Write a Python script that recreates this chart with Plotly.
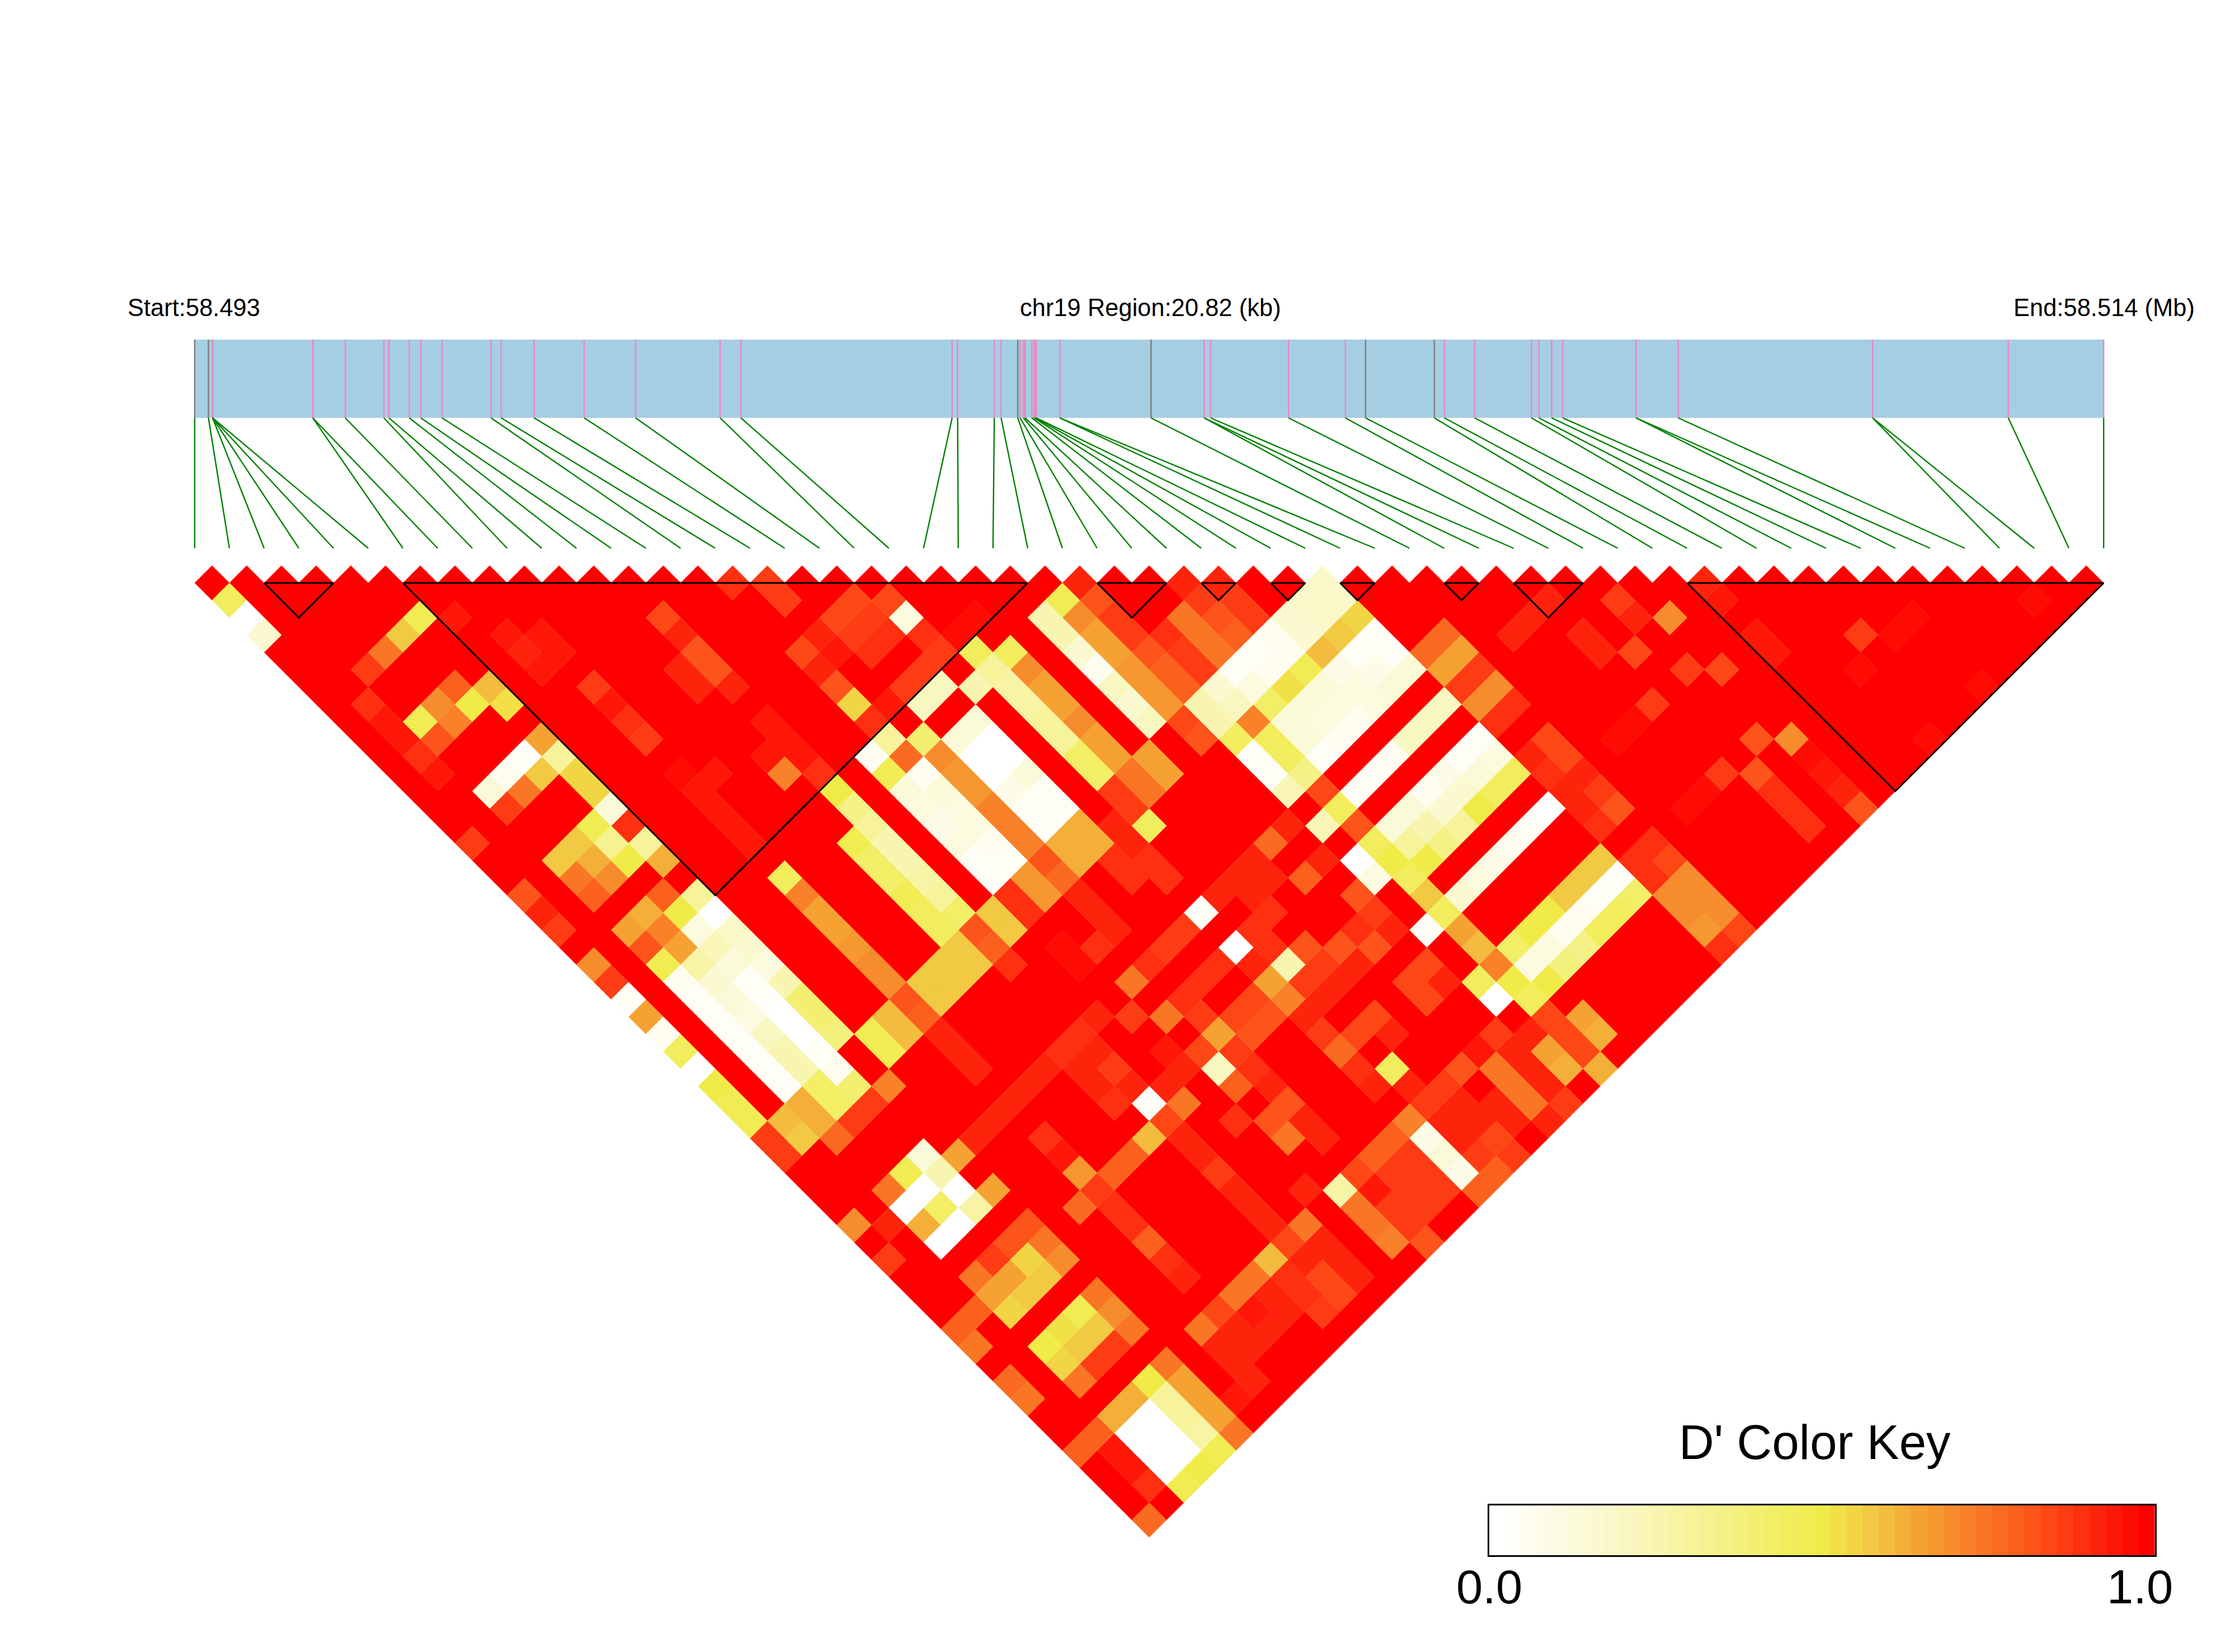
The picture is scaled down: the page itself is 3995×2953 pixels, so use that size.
import plotly.graph_objects as go

# ---------- data ----------
CHROM_LABEL = "chr19 Region:20.82 (kb)"
START_LABEL = "Start:58.493"
END_LABEL = "End:58.514 (Mb)"
REGION_KB = 20.82

snp_pos_kb = [0, 0.15, 0.195, 0.195, 0.195, 0.195, 1.288, 1.288, 1.642, 2.063, 2.118, 2.34, 2.466, 2.698,
              3.232, 3.343, 3.702, 4.248, 4.809, 5.731, 5.957, 8.261, 8.321, 8.721, 8.795, 8.977, 9.002,
              9.039, 9.057, 9.13, 9.155, 9.167, 9.179, 9.435, 9.435, 10.43, 11.01, 11.01, 11.08, 11.93,
              12.55, 12.77, 13.52, 13.63, 13.96, 14.58, 14.66, 14.80, 14.92, 15.72, 15.72, 16.18, 18.3,
              18.3, 19.78, 20.82]
gray_snps = [0, 1, 25, 35, 41, 42]
ld_blocks = [(2, 4), (6, 24), (26, 28), (29, 30), (31, 32), (33, 34), (36, 37), (38, 40), (43, 55)]

# D' per SNP pair: {partner SNP: D'}; every pair not listed reads as 1.0 (full red)
snp00 = {2:.45,3:0,4:.15,16:.87,19:.82,20:.92,21:.88,23:.7,24:.88,25:.03,26:.65,27:.05,28:.45,29:0,30:.5,31:.47,32:.47,33:.88,34:.88,38:.7,40:.88,44:.8,45:.75,47:.78,48:.75,51:.8,55:.78}
snp01 = {9:.9,10:.94,11:.94,12:.9,13:.95,33:.6,34:.58,39:.92,44:.8,51:.8,52:.94,53:.94,54:.9}
snp02 = {8:.87,11:.47,12:.82,15:.13,16:.87,19:.57,20:.74,21:.8,23:.65,24:.82,25:.47,26:.06,27:.02,28:.02,29:.02,30:.02,31:.02,32:.02,33:.62,34:.62,35:.78,38:.75,39:0,40:.62,41:0,43:.76,44:.65,45:.55,47:.5,48:.55,49:.75,51:.62,52:0,53:0,54:0,55:.47}
snp03 = {8:.75,11:.7,12:.72,15:.04,16:.75,19:.57,20:.63,21:.7,23:.63,24:.72,25:.65,26:.27,27:.15,28:.12,29:.1,30:.2,31:.25,32:.25,33:.42,34:.42,35:.88,38:.47,39:0,40:.42,41:0,43:.88,44:.65,45:.58,47:.53,48:.58,49:.88,51:.62,52:0,53:0,54:0,55:.5}
snp04 = {8:.58,11:.8,12:.5,15:.02,16:.57,19:.48,20:.33,21:.5,23:.8,24:.5,25:.1,26:.22,27:.12,28:.02,29:.02,30:0,31:0,32:.02,33:.04,34:.4,35:.88,38:.12,39:.25,40:0,41:.27,43:.83,44:.55,45:.58,47:.48,48:.58,49:.88,51:.5,52:.3,53:.3,54:.27,55:.47}
snp05 = {8:.47,12:.6,13:.52,15:.65,16:.3,17:.55,18:.55,19:.12,20:.9,21:.3,22:.62,24:.3,25:0,26:.18,27:.15,28:.1,29:.25,30:.4,31:.4,32:.38,35:.72,39:.65,41:.65,43:.83,44:.75,45:.7,47:.75,48:.7,49:.76,51:.75,52:.65,53:.65,54:.65,55:.75}
snp06 = {9:.94,33:.47,34:.47,39:.93,54:.96}
snp07 = {11:.94,12:.92,13:.94,33:.6,34:.6,39:.92,44:.77,51:.76,52:.93,53:.93,54:.93}
snp08 = {12:.94,13:.94,15:.88,16:.95,17:.9,18:.88,20:.97,21:.95,22:.95,23:.95,24:.95,26:.45,27:.72,28:.65,29:.65,30:.67,31:.7,32:.7,33:.83,34:.8,35:.93,36:.93,37:.93,39:.92,41:.9,42:.95,43:.68,44:.88,45:.9,46:.9,47:.8,48:.9,49:.92,51:.85,52:.93,53:.93}
snp09 = {21:.96,33:.58,34:.57,39:.93,44:.8,51:.76,52:.95,53:.92}
snp10 = {33:.58,34:.58,39:.93,44:.8,51:.76,52:.93,53:.92}
snp11 = {17:.93,18:.93,22:.95,23:.72,27:.47,28:.42,29:.42,30:.47,31:.46,32:.46,33:.58,34:.58,39:.9,40:.92,41:.93,42:.9,44:.6,51:.6,52:.9,53:.9,54:.88}
snp12 = {15:.85,16:.93,17:.83,18:.83,19:.93,21:.95,22:.95,23:.95,24:.9,25:.5,26:.35,27:.3,28:.25,29:.25,30:.27,31:.3,32:.42,33:.83,34:.8,35:.9,39:.9,40:.92,41:.88,42:.92,43:.02,44:.85,45:.93,46:.93,47:.87,48:.93,49:.93,50:.93,51:.85,52:.93,53:.85,54:.85}
snp13 = {33:.57,34:.57,39:.93,43:.92,44:.76,51:.75,52:.93,53:.93,54:.92}
snp14 = {25:.04,26:.47,27:.12,28:.1,29:.08,30:.1,31:.02,32:.02,33:.9,34:.9,36:.97,37:.97,40:.87,42:.95,43:.92,46:.9,50:.93}
snp15 = {16:.9,20:.85,21:.93,22:.83,23:.55,24:.9,25:.3,26:.78,27:.05,28:.12,29:.1,30:.1,31:.06,32:.02,33:.68,34:.68,37:.9,39:.75,41:.76,43:.85,44:.2,45:.8,47:.83,48:.76,51:.28,52:.76,53:.76,54:.72}
snp16 = {17:.87,18:.87,20:.92,21:.96,24:.96,26:.4,27:.7,28:.68,29:.68,30:.72,31:.72,32:.72,33:.83,34:.78,35:.93,36:.93,37:.93,39:.9,41:.9,42:.88,43:.65,44:.87,45:.9,46:.92,47:.83,48:.92,49:.92,51:.85,52:.95,53:.88,54:.88,55:.83}
snp17 = {20:.84,21:.87,22:.9,24:.88,25:.2,27:.12,28:0,29:0,30:.08,31:.03,32:.02,33:.62,34:.62,39:.87,41:.9,43:.85,44:.83,51:.8,52:.88,53:.88,54:.87}
snp18 = {20:.84,21:.87,22:.9,24:.88,25:.2,27:.12,28:0,29:0,30:.12,31:.02,32:.02,33:.62,34:.62,35:.9,36:.9,39:.87,41:.9,43:.85,44:.83,51:.8,52:.88,53:.88,54:.87}
snp19 = {21:.85,22:.1,23:.9,24:.87,26:.25,34:.92,35:.92,36:.9,37:.9,39:.03,41:0,42:.93,43:.65,44:.72,45:.92,46:.88,47:.78,48:.9,49:.93,51:.72,52:.08,53:.12,54:.08,55:.8}
snp20 = {24:.97,25:.45,26:.3,27:.27,28:.27,29:.3,30:.3,31:.42,32:.42,33:.87,34:.87,35:.45,39:.92,41:.9,42:.9,43:.25,44:.88,45:.92,47:.85,49:.45,50:.93,51:.88,52:.93,53:.93,54:.88,55:.8}
snp21 = {24:.97,26:.45,27:.7,28:.65,29:.65,30:.7,31:.65,32:.65,33:.76,34:.74,39:.92,40:.92,41:.9,43:.82,44:.88,45:.92,47:.85,48:.92,51:.88,52:.93,53:.93,54:.85,55:.87}
snp22 = {33:.65,34:.65,39:.93,40:.92,44:.82,45:.93,51:.83,53:.93,54:.93}
snp23 = {26:.25,27:.25,28:.15,29:.05,30:.2,31:.15,32:.2,39:.78,41:.8,44:.9,45:.83,47:.85,48:.85,51:.95,52:.76,53:.76,54:.76,55:.92}
snp24 = {26:.47,27:.7,28:.65,29:.65,30:.68,31:.67,32:.68,33:.85,34:.82,39:.92,41:.92,43:.83,44:.88,45:.92,47:.85,48:.92,51:.88,52:.92,53:.92,54:.92,55:.87}
snp25 = {26:.93,27:.83,28:.88,29:.87,30:.82,31:.8,32:.8,33:.25,34:.25,35:.45,36:.03,37:.03,38:.22,40:.22,42:0,43:.1,46:.02,49:.45,50:0,52:.92,53:.65,54:.63}
snp26 = {30:.9,31:.88,32:.88,33:.15,34:.2,35:.72,36:.45,37:.45,38:.35,39:.85,40:.45,41:.83,42:.45,43:.5,44:.45,45:.58,46:.45,47:.65,48:.6,49:.72,50:.5,51:.45,52:.85,53:.85,54:.85,55:.62}
snp27 = {30:.75,31:.75,32:.75,33:.03,34:.1,35:.42,36:.12,37:.12,38:.03,40:.03,42:.12,43:.3,44:.5,46:.15,49:.42,50:.1,51:.5,53:.65,54:.62}
snp28 = {29:.92,30:.88,31:.82,32:.8,33:.02,34:.05,35:.52,36:.12,37:.1,38:.04,40:.02,42:.12,43:.25,44:.35,46:.1,49:.5,50:.1,51:.38}
snp29 = {30:.92,31:.87,32:.87,33:.05,34:.05,35:.47,36:.12,37:.1,38:.04,40:.05,42:.05,43:.15,44:.3,46:.08,49:.5,50:.06,51:.35}
snp30 = {33:.15,34:.15,35:.6,36:.08,37:.1,38:.1,40:.2,42:.08,43:.15,44:.5,46:.05,49:.58,50:.05,51:.45}
snp31 = {33:.18,34:.18,35:.58,36:.03,37:.08,38:.12,40:.2,42:.03,43:.12,44:.45,46:.03,49:.58,50:.03,51:.45}
snp32 = {33:.18,34:.18,35:.55,36:.02,37:.02,38:.12,40:.2,42:.02,43:.1,44:.45,46:0,49:.58,50:.03,51:.42}
snp33 = {38:.78,39:.65,40:.88,41:.7,42:.9,44:.93,45:.9,46:.93,47:.92,48:.9,50:.9,51:.9,52:.7,53:.7,54:.67,55:.9}
snp34 = {38:.78,39:.65,40:.88,41:.7,42:.9,44:.84,45:.84,46:.92,47:.87,48:.83,50:.9,51:.85,52:.7,53:.7,54:.7,55:.85}
snp36 = {40:.92,46:.97,50:.97}
snp37 = {40:.92,46:.97,50:.97}
snp38 = {40:.92,42:.92,43:.92,46:.88,50:.88}
snp39 = {44:.85,51:.82,52:.9,53:.9,54:.9}
snp40 = {42:.87,43:.93,46:.87,50:.83}
snp41 = {44:.7,47:.84,51:.7,52:.97,53:.94,54:.92,55:.83}
snp43 = {44:.92,45:.94,47:.95,48:.95}
snp45 = {51:.97,55:.98}
snp46 = {50:.88}
snp47 = {51:.97}
snp48 = {51:.97,55:.98}
snp52 = {54:.98}

pair_rows = {0:snp00,1:snp01,2:snp02,3:snp03,4:snp04,5:snp05,6:snp06,7:snp07,8:snp08,9:snp09,10:snp10,11:snp11,
             12:snp12,13:snp13,14:snp14,15:snp15,16:snp16,17:snp17,18:snp18,19:snp19,20:snp20,21:snp21,22:snp22,
             23:snp23,24:snp24,25:snp25,26:snp26,27:snp27,28:snp28,29:snp29,30:snp30,31:snp31,32:snp32,33:snp33,
             34:snp34,36:snp36,37:snp37,38:snp38,39:snp39,40:snp40,41:snp41,43:snp43,45:snp45,46:snp46,47:snp47,
             48:snp48,52:snp52}

# colour key of the picture
key_anchors = [(0, (255,255,255)), (.1,(252,251,224)), (.25,(248,245,176)), (.5,(240,235,71)), (.55,(242,213,69)),
               (.6,(243,188,62)), (.65,(246,162,51)), (.7,(247,140,45)), (.75,(249,118,37)), (.8,(251,96,29)),
               (.85,(253,72,22)), (.9,(254,48,16)), (.95,(255,24,8)), (1,(255,0,0))]
N_STEPS = 41

# ---------- layout constants (figure pixels) ----------
W, H = 3995, 2953
X0, DX, Y0 = 348.0, 62.04, 1042.0
def py(p):
    return (Y0 - p) / DX
BAR_TOP, BAR_BOTTOM, FAN_END = py(607), py(747), py(980)


def color_of(v):
    step = round(v * (N_STEPS - 1)) / (N_STEPS - 1)
    for (a, ca), (b, cb) in zip(key_anchors, key_anchors[1:]):
        if a <= step <= b:
            t = (step - a) / (b - a)
            c = [round(x + (y - x) * t) for x, y in zip(ca, cb)]
            return "rgb(%d,%d,%d)" % tuple(c)
    return "rgb(255,0,0)"


n = len(snp_pos_kb)
groups = {}
for i in range(n - 1):
    for j in range(i + 1, n):
        v = pair_rows.get(i, {}).get(j, 1.0)
        groups.setdefault(color_of(v), []).append((round(v, 3), i, j))

fig = go.Figure()

# SNP position bar
fig.add_trace(go.Scatter(x=[0, 55, 55, 0, 0], y=[BAR_TOP, BAR_TOP, BAR_BOTTOM, BAR_BOTTOM, BAR_TOP], mode="lines",
                         fill="toself", fillcolor="#A6CEE3", line=dict(width=0), hoverinfo="skip", showlegend=False))
to_x = lambda kb: kb / REGION_KB * (n - 1)
for colour, idx, w in (("#E78AC3", [k for k in range(n) if k not in gray_snps], 2.6),
                       ("#808080", gray_snps, 2.6)):
    xs, ys = [], []
    for k in idx:
        xs += [to_x(snp_pos_kb[k]), to_x(snp_pos_kb[k]), None]
        ys += [BAR_TOP, BAR_BOTTOM, None]
    fig.add_trace(go.Scatter(x=xs, y=ys, mode="lines", line=dict(color=colour, width=w), hoverinfo="skip", showlegend=False))
xs, ys = [], []
for k in range(n):
    xs += [to_x(snp_pos_kb[k]), k, None]
    ys += [BAR_BOTTOM, FAN_END, None]
fig.add_trace(go.Scatter(x=xs, y=ys, mode="lines", line=dict(color="#008000", width=2.4), hoverinfo="skip", showlegend=False))

# LD cells, reddest first so lighter cells sit on top of the seams
for colour, cells in sorted(groups.items(), key=lambda kv: -kv[1][0][0]):
    xs, ys = [], []
    for v, i, j in cells:
        cx, cy = (i + j) / 2, -(j - i - 1) / 2
        xs += [cx - .5, cx, cx + .5, cx, cx - .5, None]
        ys += [cy, cy + .5, cy, cy - .5, cy, None]
    fig.add_trace(go.Scatter(x=xs, y=ys, mode="lines", fill="toself", fillcolor=colour,
                             line=dict(color=colour, width=0.5), hoverinfo="skip", showlegend=False))

# LD blocks
xs, ys = [], []
for a, b in ld_blocks:
    xs += [a, b, (a + b) / 2, a, None]
    ys += [0, 0, -(b - a) / 2, 0, None]
fig.add_trace(go.Scatter(x=xs, y=ys, mode="lines", line=dict(color="black", width=3), hoverinfo="skip", showlegend=False))

# colour key
key_scale = []
key_colors = [color_of(s / (N_STEPS - 1)) for s in range(N_STEPS)]
for s, c in enumerate(key_colors):
    key_scale += [[s / N_STEPS, c], [(s + 1) / N_STEPS, c]]
fig.add_trace(go.Heatmap(z=[list(range(N_STEPS))], xaxis="x2", yaxis="y2", colorscale=key_scale, zmin=-.5,
                         zmax=N_STEPS - .5, showscale=False, hoverinfo="skip"))


def label(text, px, pyy, size, anchor="center"):
    return dict(text=text, x=px / W, y=1 - pyy / H, xref="paper", yref="paper", xanchor=anchor, yanchor="middle",
                showarrow=False, font=dict(family="Liberation Sans", size=size, color="black"))


fig.update_layout(
    width=W, height=H, margin=dict(l=0, r=0, t=0, b=0), plot_bgcolor="white", paper_bgcolor="white", showlegend=False,
    xaxis=dict(domain=[0, 1], range=[-X0 / DX, (W - X0) / DX], visible=False),
    yaxis=dict(domain=[0, 1], range=[(Y0 - H) / DX, Y0 / DX], visible=False),
    xaxis2=dict(domain=[2661.6 / W, 3852 / W], anchor="y2", showticklabels=False, ticks="", showgrid=False, zeroline=False,
                showline=True, mirror=True, linecolor="black", linewidth=3),
    yaxis2=dict(domain=[1 - 2780 / H, 1 - 2691 / H], anchor="x2", showticklabels=False, ticks="", showgrid=False, zeroline=False,
                showline=True, mirror=True, linecolor="black", linewidth=3),
    annotations=[
        label(START_LABEL, 226, 550, 43.5, "left"),
        label(CHROM_LABEL, 2056, 550, 43.5),
        label(END_LABEL, 3925, 550, 43.5, "right"),
        label("D' Color Key", 3244, 2577, 87),
        label("0.0", 2662, 2836, 85),
        label("1.0", 3825, 2836, 85),
    ],
)

fig.write_html("out.html", config=dict(displayModeBar=False),
               post_script="document.body.style.margin='0';document.body.style.overflow='hidden';")
